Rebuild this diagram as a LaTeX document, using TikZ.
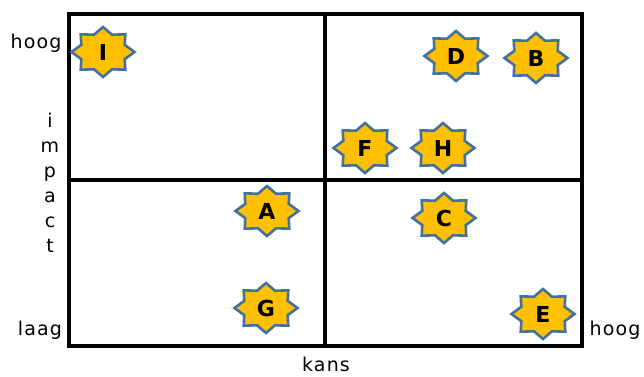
\documentclass[tikz,border=0pt]{standalone}
\usepackage{fontspec}
\setmainfont{DejaVu Sans}
\newfontfamily\axfont[LetterSpace=6]{DejaVu Sans}
\definecolor{stary}{HTML}{FFC000}
\definecolor{starb}{HTML}{41719C}
\tikzset{
  gridline/.style={line width=3.2pt, black},
  starlbl/.style={font=\fontsize{22}{22}\selectfont\bfseries, inner sep=0pt},
  axlbl/.style={font=\axfont\fontsize{19}{19}\selectfont, inner sep=0pt},
  starshape/.style={fill=stary, draw=starb, line width=2.6pt, line join=miter}
}
\newcommand{\mystar}[4]{%
  \coordinate (#1c) at (#2,#3);
  \draw[starshape] plot[samples at={0,22.5,...,337.5}] ({#2+ (mod(\x,45)==0 ? 31.5 : 23.5)*cos(\x)},{#3+ (mod(\x,45)==0 ? 25 : 18.7)*sin(\x)}) -- cycle;
  \node[starlbl] (#1) at (#1c) {#4};
}
\begin{document}
\begin{tikzpicture}[x=1pt,y=-1pt]
\useasboundingbox (0,0) rectangle (644,376);
\coordinate (tl) at (69,14);
\coordinate (br) at (582,346);
\draw[gridline] (tl) rectangle (br);
\coordinate (mt) at (325,14);
\coordinate (mb) at (325,346);
\coordinate (ml) at (69,180);
\coordinate (mr) at (582,180);
\draw[gridline] (mt) -- (mb);
\draw[gridline] (ml) -- (mr);
\mystar{I}{103}{52}{I}
\mystar{D}{456}{56}{D}
\mystar{B}{536}{58}{B}
\mystar{F}{365}{148}{F}
\mystar{H}{443}{148}{H}
\mystar{A}{267}{211}{A}
\mystar{C}{444}{218}{C}
\mystar{G}{266}{308}{G}
\mystar{E}{543}{314}{E}
\node[axlbl] (hoogy) at (36,43) {hoog};
\node[axlbl] (laag) at (40,330) {laag};
\node[axlbl] (hoogx) at (615,330) {hoog};
\node[axlbl] (kans) at (326,364) {kans};
\node[axlbl, align=center, font=\fontsize{19}{25}\selectfont] (impact) at (50,183) {i\\m\\p\\a\\c\\t};
\end{tikzpicture}
\end{document}
